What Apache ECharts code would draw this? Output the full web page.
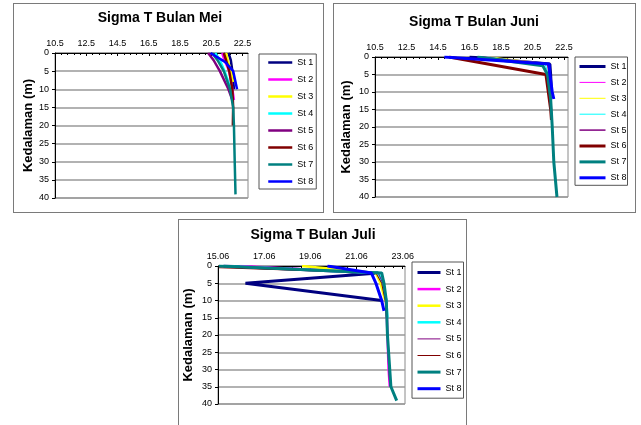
<!DOCTYPE html>
<html>
<head>
<meta charset="utf-8">
<script src="https://cdn.jsdelivr.net/npm/echarts@6/dist/echarts.min.js"></script>
<style>
  body { margin: 0; background: #fff; width: 641px; height: 425px; overflow: hidden; position: relative; }
  .box { position: absolute; border: 1px solid #7a7a7a; box-sizing: border-box; background: #fff; }
</style>
</head>
<body>
<div id="mei" class="box" style="left:13px;top:3px;width:311px;height:210px"></div>
<div id="juni" class="box" style="left:333px;top:3px;width:303px;height:210px"></div>
<div id="juli" class="box" style="left:178px;top:219px;width:289px;height:230px"></div>
<script>
// stations and their Excel colours
const stations = ['St 1', 'St 2', 'St 3', 'St 4', 'St 5', 'St 6', 'St 7', 'St 8'];
const stationColors = ['#000080', '#ff00ff', '#ffff00', '#00ffff', '#800080', '#800000', '#008080', '#0000ff'];

// x tick labels (sigma T) for each month
const meiTicks = [10.5, 12.5, 14.5, 16.5, 18.5, 20.5, 22.5];
const juniTicks = [10.5, 12.5, 14.5, 16.5, 18.5, 20.5, 22.5];
const juliTicks = [15.06, 17.06, 19.06, 21.06, 23.06];

// profiles per station: [sigma T, depth (m)]
const meiProfiles = [
  [[21.6, 0], [21.75, 2], [21.85, 5], [21.95, 10]],
  [[21.2, 0], [21.35, 2], [21.65, 5], [21.85, 10], [21.95, 13]],
  [[21.45, 0], [21.55, 2], [21.75, 5], [21.9, 8]],
  [[20.75, 0], [21.05, 2], [21.35, 5], [21.75, 10], [21.9, 13]],
  [[20.3, 0], [20.65, 2], [21.05, 5], [21.6, 10], [21.85, 13]],
  [[21.3, 0], [21.45, 2], [21.65, 5], [21.85, 10], [21.9, 15], [21.88, 20]],
  [[20.55, 0], [20.9, 2], [21.3, 5], [21.7, 10], [21.9, 15], [21.95, 20], [22.0, 30], [22.05, 39]],
  [[20.45, 0], [21.4, 2.5], [21.9, 5], [22.15, 10]]
];
const juniProfiles = [
  [[16.5, 0], [21.6, 2], [21.65, 5], [21.7, 10]],
  [[17.5, 0], [21.55, 2], [21.6, 5], [21.65, 10]],
  [[17.9, 0], [21.5, 2], [21.6, 5], [21.65, 10]],
  [[17.6, 0], [21.3, 2], [21.5, 5], [21.6, 10]],
  [[17.2, 0], [21.45, 2], [21.55, 5], [21.65, 10], [21.7, 15]],
  [[15.2, 0], [21.35, 5], [21.5, 10], [21.65, 15], [21.7, 18]],
  [[17.0, 0], [21.15, 2.5], [21.45, 5], [21.65, 12], [21.75, 20], [21.85, 30], [22.05, 40]],
  [[14.9, 0], [21.55, 2], [21.6, 5], [21.75, 10], [21.85, 12]]
];
const juliProfiles = [
  [[15.3, 0], [22.0, 2], [16.25, 5], [22.15, 10]],
  [[16.0, 0], [21.95, 2], [22.2, 5], [22.35, 10], [22.4, 20], [22.45, 30], [22.5, 35]],
  [[18.7, 0], [21.9, 2], [22.1, 5], [22.3, 10]],
  [[15.3, 0], [22.0, 2], [22.2, 5], [22.35, 10], [22.4, 15]],
  [[15.8, 0], [22.0, 2], [22.2, 5], [22.35, 10], [22.4, 20], [22.45, 30], [22.5, 35]],
  [[15.1, 0.5], [21.9, 2], [22.15, 5], [22.3, 10], [22.35, 15]],
  [[15.1, 0], [22.15, 2], [22.25, 5], [22.35, 10], [22.4, 20], [22.5, 30], [22.55, 35], [22.8, 39]],
  [[19.8, 0], [21.7, 2], [21.9, 5], [22.15, 10], [22.25, 13]]
];

const font = 'Liberation Sans, Arial, sans-serif';

function minorValues(ticks, max) {
  const step = (ticks[1] - ticks[0]) / 5;
  const out = [];
  for (let v = ticks[0]; v <= max + 1e-9; v += step) {
    out.push(+v.toFixed(4));
  }
  return out;
}

function makeChart(id, cfg) {
  const chart = echarts.init(document.getElementById(id));
  const series = cfg.profiles.map((pts, i) => ({
    name: stations[i],
    type: 'line',
    xAxisIndex: 0,
    yAxisIndex: 0,
    data: pts,
    symbol: 'none',
    showSymbol: false,
    lineStyle: { color: stationColors[i], width: cfg.widths[i] },
    itemStyle: { color: stationColors[i] }
  }));

  chart.setOption({
    animation: false,
    title: {
      text: cfg.title,
      left: cfg.titleX,
      top: cfg.titleY,
      textAlign: 'center',
      padding: 0,
      textStyle: { fontFamily: font, fontSize: 14, fontWeight: 'bold', color: '#000' }
    },
    legend: {
      orient: 'vertical',
      left: cfg.legendX,
      top: cfg.legendY,
      itemWidth: cfg.legendItemW,
      itemHeight: 10,
      itemGap: cfg.legendGap,
      padding: cfg.legendPad,
      borderColor: '#555',
      borderWidth: 1,
      selectedMode: false,
      itemStyle: { opacity: 0 },
      data: stations.map((n, i) => ({ name: n, lineStyle: { width: cfg.widths[i] } })),
      textStyle: { fontFamily: font, fontSize: 9, color: '#000' }
    },
    grid: Object.assign({
      show: true,
      borderColor: '#8a8a8a',
      borderWidth: 1,
      containLabel: false,
      outerBoundsMode: 'none'
    }, cfg.grid),
    xAxis: [{
      type: 'value',
      position: 'top',
      min: cfg.min,
      max: cfg.max,
      axisLine: { show: true, lineStyle: { color: '#000', width: 1 } },
      axisTick: { show: true, inside: true, length: 3, customValues: cfg.ticks, lineStyle: { color: '#000' } },
      axisLabel: { customValues: cfg.ticks, margin: 5, fontFamily: font, fontSize: 9, color: '#000' },
      splitLine: { show: false }
    }, {
      type: 'value',
      position: 'top',
      min: cfg.min,
      max: cfg.max,
      axisLine: { show: false },
      axisTick: { show: true, inside: true, length: 2, customValues: minorValues(cfg.ticks, cfg.max), lineStyle: { color: '#000' } },
      axisLabel: { show: false },
      splitLine: { show: false }
    }],
    yAxis: [{
      type: 'value',
      inverse: true,
      min: 0,
      max: 40,
      interval: 5,
      name: 'Kedalaman (m)',
      nameLocation: 'middle',
      nameGap: cfg.nameGap,
      nameMoveOverlap: false,
      nameTextStyle: { fontFamily: font, fontSize: 13, fontWeight: 'bold', color: '#000' },
      axisLine: { show: true, lineStyle: { color: '#000', width: 1 } },
      axisTick: { show: true, length: 3, lineStyle: { color: '#000' } },
      axisLabel: { margin: 6, fontFamily: font, fontSize: 9, color: '#000' },
      splitLine: { show: true, lineStyle: { color: '#999', width: 1.5 } }
    }],
    series: series
  });
  return chart;
}

makeChart('mei', {
  title: 'Sigma T Bulan Mei', titleX: 146, titleY: 7,
  ticks: meiTicks, min: 10.5, max: 22.85,
  profiles: meiProfiles,
  widths: [2.5, 2.5, 2.5, 2.5, 2.5, 2.5, 2.5, 2.5],
  grid: { left: 41, top: 49, width: 193, height: 145 },
  legendX: 245, legendY: 50, legendItemW: 24, legendGap: 8, legendPad: [4, 3, 3, 8],
  nameGap: 20
});

makeChart('juni', {
  title: 'Sigma T Bulan Juni', titleX: 140, titleY: 11,
  ticks: juniTicks, min: 10.5, max: 22.75,
  profiles: juniProfiles,
  widths: [3, 1, 1, 1, 1.5, 3, 3, 3],
  grid: { left: 41, top: 53, width: 193, height: 140 },
  legendX: 241, legendY: 53, legendItemW: 26, legendGap: 6.9, legendPad: [5, 1, 3, 3],
  nameGap: 22
});

makeChart('juli', {
  title: 'Sigma T Bulan Juli', titleX: 134, titleY: 8,
  ticks: juliTicks, min: 15.06, max: 23.16,
  profiles: juliProfiles,
  widths: [3, 2.5, 2.5, 2.5, 1, 1, 3, 3],
  grid: { left: 39, top: 46, width: 187, height: 138 },
  legendX: 233, legendY: 42, legendItemW: 23, legendGap: 7.6, legendPad: [6, 2, 5, 4],
  nameGap: 23
});
</script>
</body>
</html>
